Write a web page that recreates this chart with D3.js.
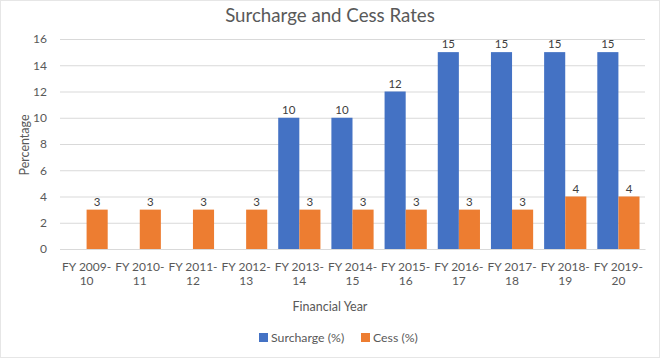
<!DOCTYPE html>
<html><head><meta charset="utf-8">
<script src="https://cdn.jsdelivr.net/npm/d3@7"></script>
<style>body{margin:0;background:#fff}svg{display:block}text{font-family:Lato,"Open Sans",sans-serif;fill:#595959}</style>
</head><body><svg id="c" width="660" height="359"></svg>
<script>
const categories = ["FY 2009-10","FY 2010-11","FY 2011-12","FY 2012-13","FY 2013-14","FY 2014-15","FY 2015-16","FY 2016-17","FY 2017-18","FY 2018-19","FY 2019-20"];
const surcharge = [null,null,null,null,10,10,12,15,15,15,15];
const cess = [3,3,3,3,3,3,3,3,3,4,4];
const seriesNames = ["Surcharge (%)","Cess (%)"];
const colors = ["#4472C4","#ED7D31"];
const yTicks = [0,2,4,6,8,10,12,14,16];

const svg = d3.select("#c");
svg.append("rect").attr("x",0.5).attr("y",0.5).attr("width",659).attr("height",357).attr("fill","#fff").attr("stroke","#e6e6e6");

const x = d3.scaleBand().domain(categories).range([60,645]).paddingInner(0).paddingOuter(0);
const y = d3.scaleLinear().domain([0,16]).range([249,39]);
const inner = d3.scaleBand().domain([0,1]).range([0,x.bandwidth()]).paddingOuter(0.26).paddingInner(0);

// grid
const gy = svg.append("g").attr("transform","translate(60,0)")
  .call(d3.axisLeft(y).tickValues(yTicks).tickSize(-585).tickFormat(d3.format("d")).tickPadding(13));
gy.select(".domain").remove();
gy.selectAll(".tick line").attr("stroke","#d9d9d9");
gy.selectAll(".tick text").attr("font-size",12).style("fill","#595959");

// bars
const data = [surcharge, cess];
data.forEach((vals,si)=>{
  const g = svg.append("g");
  categories.forEach((c,i)=>{
    const v = vals[i];
    if (v==null) return;
    g.append("rect").attr("x",x(c)+inner(si)).attr("y",y(v))
      .attr("width",inner.bandwidth()).attr("height",y(0)-y(v)).attr("fill",colors[si]);
    g.append("text").attr("x",x(c)+inner(si)+inner.bandwidth()/2).attr("y",y(v)-4)
      .attr("text-anchor","middle").attr("font-size",11.5).text(v).style("fill","#404040");
  });
});

// x axis
const gx = svg.append("g").attr("transform","translate(0,249)")
  .call(d3.axisBottom(x).tickSize(0).tickPadding(0));
gx.select(".domain").attr("stroke","#d9d9d9");
gx.selectAll(".tick text").each(function(d){
  const t = d3.select(this); t.text(null);
  const idx = d.lastIndexOf("-");
  t.attr("font-size",12).attr("y",0).attr("dy",null);
  t.append("tspan").attr("x",0).attr("y",22).text(d.slice(0,idx+1));
  t.append("tspan").attr("x",0).attr("y",36).text(d.slice(idx+1));
}).style("fill","#595959");

// title
svg.append("text").attr("x",330).attr("y",22).attr("text-anchor","middle").attr("font-size",18.7).text("Surcharge and Cess Rates");
// axis titles
svg.append("text").attr("x",330).attr("y",311).attr("text-anchor","middle").attr("font-size",12.5).text("Financial Year");
svg.append("text").attr("transform","translate(29,145) rotate(-90)").attr("text-anchor","middle").attr("font-size",12.5).text("Percentage");

// legend
const leg = svg.append("g");
const legX = [259,361];
seriesNames.forEach((n,i)=>{
  leg.append("rect").attr("x",legX[i]).attr("y",333).attr("width",9).attr("height",9).attr("fill",colors[i]);
  leg.append("text").attr("x",legX[i]+12).attr("y",341.5).attr("font-size",12.3).text(n);
});
</script></body></html>
